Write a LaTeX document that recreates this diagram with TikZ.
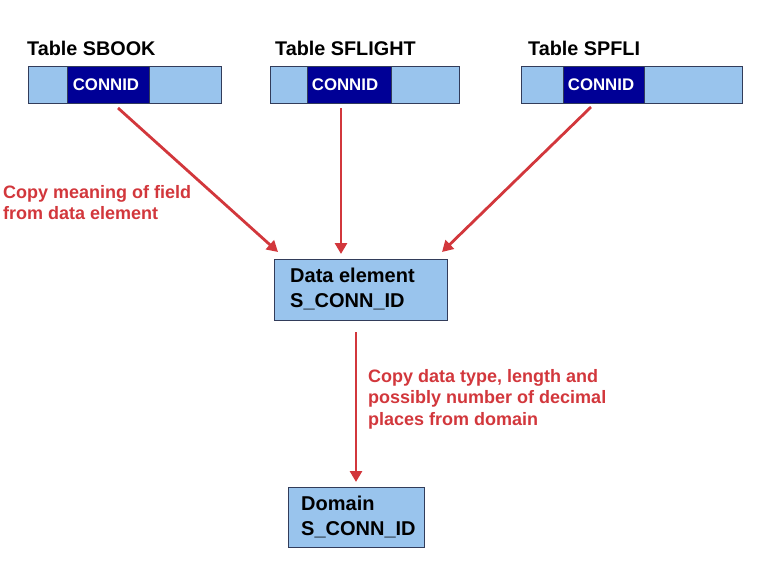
\documentclass[tikz,border=0pt]{standalone}
\usepackage{fontspec}
\setmainfont{Liberation Sans}
\usetikzlibrary{arrows.meta}
\definecolor{lblue}{RGB}{153,196,237}
\definecolor{dblue}{RGB}{0,0,150}
\definecolor{bordc}{RGB}{50,60,90}
\definecolor{redc}{RGB}{210,55,60}
\tikzset{
  tbl/.style={draw=bordc, fill=lblue, line width=0.8pt},
  fld/.style={draw=bordc, fill=dblue, line width=0.8pt},
  ttl/.style={anchor=west, inner sep=0pt, font=\fontsize{19.8}{22}\selectfont\bfseries},
  fldtxt/.style={text=white, inner sep=0pt, font=\fontsize{16.8}{19}\selectfont\bfseries},
  elemtxt/.style={anchor=north west, inner sep=0pt, align=left, font=\fontsize{20}{24.5}\selectfont\bfseries},
  note/.style={text=redc, anchor=north west, inner sep=0pt, align=left, font=\fontsize{18}{21.5}\selectfont\bfseries},
  arr/.style={draw=redc, line width=2.8pt, -{Triangle[length=11pt,width=12pt]}}
}
\begin{document}
\begin{tikzpicture}[x=1pt,y=-1pt]
\useasboundingbox (0,0) rectangle (768,563);
% Tables
\draw[tbl] (28,66) rectangle (221,103);
\draw[fld] (67,66) rectangle (149,103);
\node[fldtxt] (c1) at (106,85) {CONNID};
\coordinate (s1) at (118,108);
\node[ttl] (t1) at (27,48) {Table SBOOK};

\draw[tbl] (270,66) rectangle (459,103);
\draw[fld] (307,66) rectangle (391,103);
\node[fldtxt] (c2) at (345,85) {CONNID};
\coordinate (s2) at (341,108);
\node[ttl] (t2) at (275,48) {Table SFLIGHT};

\draw[tbl] (521,66) rectangle (742,103);
\draw[fld] (563,66) rectangle (644,103);
\node[fldtxt] (c3) at (601,85) {CONNID};
\coordinate (s3) at (591,107);
\node[ttl] (t3) at (528,48) {Table SPFLI};

% Data element
\draw[tbl] (274,259) rectangle (447,320);
\node[elemtxt] (de) at (290,268) {Data element\\S\_CONN\_ID};
\coordinate (de1) at (278,252);
\coordinate (de2) at (341,254);
\coordinate (de3) at (442,252);
\coordinate (deb) at (356,332);

% Domain
\draw[tbl] (288,487) rectangle (424,547);
\node[elemtxt] (dom) at (301,496) {Domain\\S\_CONN\_ID};
\coordinate (domt) at (356,482);

% Arrows
\draw[arr] (s1) -- (de1);
\draw[arr] (s2) -- (de2);
\draw[arr] (s3) -- (de3);
\draw[arr] (deb) -- (domt);

% Notes
\node[note] (n1) at (3,185) {Copy meaning of field\\from data element};
\node[note] (n2) at (368,369) {Copy data type, length and\\possibly number of decimal\\places from domain};
\end{tikzpicture}
\end{document}
